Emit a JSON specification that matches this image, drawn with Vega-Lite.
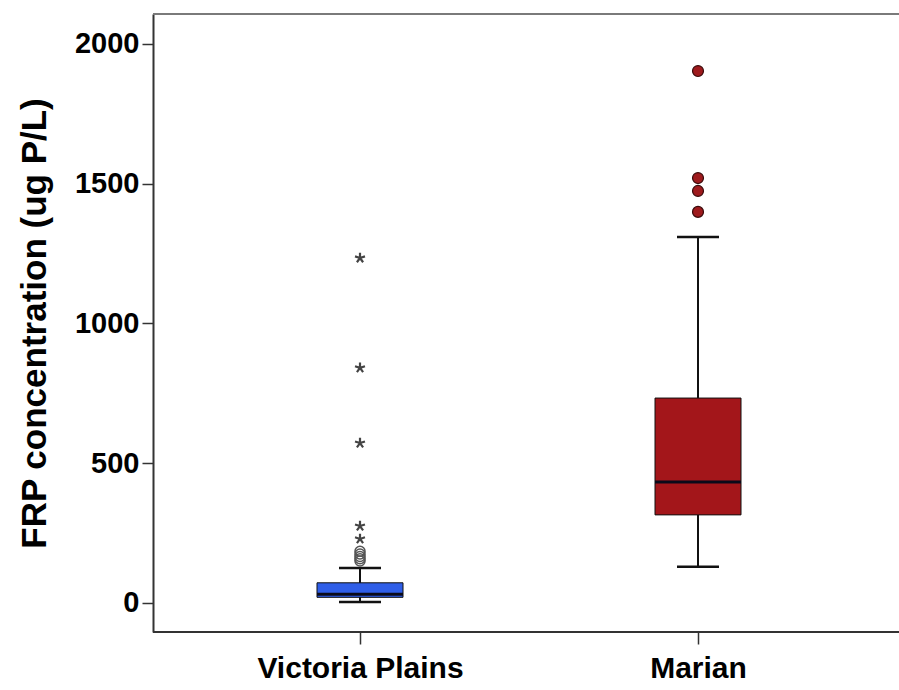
{
  "$schema": "https://vega.github.io/schema/vega-lite/v6.json",
  "autosize": "none",
  "width": 746,
  "height": 618,
  "padding": {"left": 153, "top": 14, "right": 0, "bottom": 58},
  "background": "white",
  "config": {
    "view": {"stroke": null},
    "font": "Liberation Sans",
    "axis": {"labelFont": "Liberation Sans", "titleFont": "Liberation Sans", "labelColor": "#000", "titleColor": "#000", "grid": false}
  },
  "datasets": {
    "boxes": [
      {"site": "Victoria Plains", "lower": 3, "q1": 20, "median": 31, "q3": 72, "upper": 125},
      {"site": "Marian", "lower": 129, "q1": 315, "median": 433, "q3": 733, "upper": 1309}
    ],
    "outliers": [
      {"site": "Victoria Plains", "value": 150, "kind": "circle"},
      {"site": "Victoria Plains", "value": 158, "kind": "circle"},
      {"site": "Victoria Plains", "value": 166, "kind": "circle"},
      {"site": "Victoria Plains", "value": 175, "kind": "circle"},
      {"site": "Victoria Plains", "value": 185, "kind": "circle"},
      {"site": "Victoria Plains", "value": 229, "kind": "extreme"},
      {"site": "Victoria Plains", "value": 275, "kind": "extreme"},
      {"site": "Victoria Plains", "value": 572, "kind": "extreme"},
      {"site": "Victoria Plains", "value": 841, "kind": "extreme"},
      {"site": "Victoria Plains", "value": 1234, "kind": "extreme"},
      {"site": "Marian", "value": 1399, "kind": "circle"},
      {"site": "Marian", "value": 1474, "kind": "circle"},
      {"site": "Marian", "value": 1520, "kind": "circle"},
      {"site": "Marian", "value": 1903, "kind": "circle"}
    ],
    "frame": [{"top": 2107, "bottom": -104}]
  },
  "encoding": {
    "x": {
      "field": "site", "type": "nominal",
      "sort": ["Victoria Plains", "Marian"],
      "scale": {"type": "point", "range": [207, 545], "padding": 0},
      "axis": {
        "title": null, "labelAngle": 0, "labelFontSize": 30, "labelFontWeight": "bold",
        "labelPadding": 9, "labelLimit": 0, "tickSize": 12, "tickWidth": 1.5, "tickColor": "#333",
        "domain": false
      }
    }
  },
  "layer": [
    {
      "data": {"name": "frame"},
      "mark": {"type": "rule", "color": "#7a7a7a", "strokeWidth": 2},
      "encoding": {"x": null, "y": {"field": "top", "type": "quantitative"}}
    },
    {
      "data": {"name": "frame"},
      "mark": {"type": "rule", "color": "#333", "strokeWidth": 2},
      "encoding": {"x": null, "y": {"field": "bottom", "type": "quantitative"}}
    },
    {
      "data": {"name": "boxes"},
      "mark": {"type": "rule", "color": "#111", "strokeWidth": 2},
      "encoding": {
        "y": {
          "field": "lower", "type": "quantitative",
          "scale": {"domain": [-104, 2107], "nice": false, "zero": false},
          "axis": {
            "title": "FRP concentration (ug P/L)", "titleFontSize": 35, "titleFontWeight": "bold",
            "titlePadding": 22, "values": [0, 500, 1000, 1500, 2000], "format": "d",
            "labelFontSize": 29, "labelFontWeight": "bold", "labelPadding": 3,
            "tickSize": 11, "tickWidth": 1.5, "tickColor": "#333",
            "domainColor": "#333", "domainWidth": 2
          }
        },
        "y2": {"field": "upper"}
      }
    },
    {
      "data": {"name": "boxes"},
      "mark": {"type": "bar", "width": 86, "stroke": "#111", "strokeWidth": 1},
      "encoding": {
        "y": {"field": "q1", "type": "quantitative"},
        "y2": {"field": "q3"},
        "fill": {
          "field": "site", "type": "nominal", "legend": null,
          "scale": {"domain": ["Victoria Plains", "Marian"], "range": ["#2f5ee8", "#a3161a"]}
        }
      }
    },
    {
      "data": {"name": "boxes"},
      "mark": {"type": "tick", "size": 86, "thickness": 3, "color": "#0a0a1a", "opacity": 1},
      "encoding": {"y": {"field": "median", "type": "quantitative"}}
    },
    {
      "data": {"name": "boxes"},
      "mark": {"type": "tick", "size": 42, "thickness": 2.5, "color": "#111", "opacity": 1},
      "encoding": {"y": {"field": "lower", "type": "quantitative"}}
    },
    {
      "data": {"name": "boxes"},
      "mark": {"type": "tick", "size": 42, "thickness": 2.5, "color": "#111", "opacity": 1},
      "encoding": {"y": {"field": "upper", "type": "quantitative"}}
    },
    {
      "data": {"name": "outliers"},
      "transform": [{"filter": "datum.kind == 'circle' && datum.site == 'Marian'"}],
      "mark": {"type": "point", "shape": "circle", "filled": true, "size": 120, "fill": "#9e1a1d", "stroke": "#3a0b0b", "strokeWidth": 1.2, "opacity": 1},
      "encoding": {"y": {"field": "value", "type": "quantitative"}}
    },
    {
      "data": {"name": "outliers"},
      "transform": [{"filter": "datum.kind == 'circle' && datum.site == 'Victoria Plains'"}],
      "mark": {"type": "point", "shape": "circle", "filled": false, "size": 100, "stroke": "#555", "strokeWidth": 1.5, "opacity": 1},
      "encoding": {"y": {"field": "value", "type": "quantitative"}}
    },
    {
      "data": {"name": "outliers"},
      "transform": [{"filter": "datum.kind == 'extreme'"}],
      "mark": {
        "type": "point",
        "shape": "M0,-1L0,0M0,0L0.95,-0.31M0,0L0.59,0.81M0,0L-0.59,0.81M0,0L-0.95,-0.31",
        "filled": false, "size": 110, "stroke": "#444", "strokeWidth": 2.2, "opacity": 1
      },
      "encoding": {"y": {"field": "value", "type": "quantitative"}}
    }
  ]
}
